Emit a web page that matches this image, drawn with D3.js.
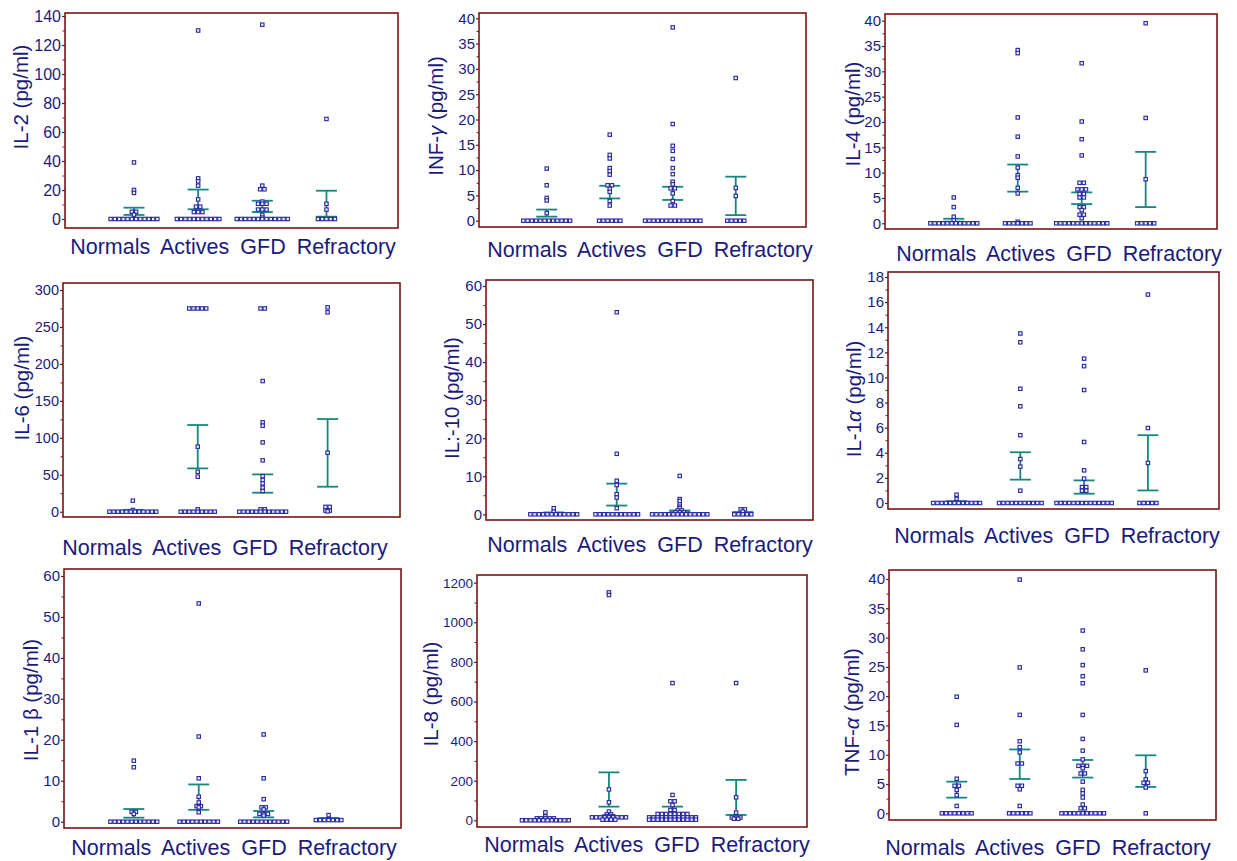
<!DOCTYPE html>
<html>
<head>
<meta charset="utf-8">
<script src="https://cdn.jsdelivr.net/npm/d3@7"></script>
<style>
  body { margin: 0; background: #fff; }
  svg { display: block; font-family: "Liberation Sans", Arial, Helvetica, sans-serif; }
</style>
</head>
<body>
<svg id="chart" width="1237" height="861"></svg>
<script>
const groups = ["Normals", "Actives", "GFD", "Refractory"];

// values per group (Normals, Actives, GFD, Refractory)
const il2 = [
  [39, 20, 18, 5, 5, 3, 0, 0, 0, 0, 0, 0, 0, 0, 0, 0, 0, 0],
  [130, 28, 26, 23, 13.5, 8.5, 8.5, 4.8, 4.8, 4.8, 0, 0, 0, 0, 0, 0, 0, 0, 0, 0, 0],
  [134, 23, 20.5, 20.5, 12, 10.5, 10.5, 10.5, 6.5, 6.5, 6.5, 2.8, 1, 0, 0, 0, 0, 0, 0, 0, 0, 0, 0, 0, 0, 0],
  [69, 10.5, 6.5, 0, 0, 0, 0, 0]
];
const infG = [
  [10.3, 7, 4.5, 4, 1.5, 0, 0, 0, 0, 0, 0, 0, 0, 0, 0, 0, 0],
  [17, 13, 12.3, 10.4, 9.8, 9.1, 7, 7, 6.3, 5.7, 3.9, 3, 0, 0, 0, 0, 0, 0],
  [38.2, 19.1, 14.8, 13.8, 12.2, 10.4, 9.2, 7.7, 7.2, 6.4, 6.4, 5.4, 3.9, 3, 3, 0, 0, 0, 0, 0, 0, 0, 0, 0, 0, 0, 0, 0, 0],
  [28.2, 6.5, 4.9, 0, 0, 0, 0, 0]
];
const il4 = [
  [5.1, 3.2, 1.3, 0.6, 0, 0, 0, 0, 0, 0, 0, 0, 0, 0, 0, 0],
  [34.2, 33.6, 20.9, 17.1, 13.2, 11, 9.5, 9, 7, 5.9, 0.3, 0, 0, 0, 0, 0, 0, 0],
  [31.6, 20.1, 16.6, 13.4, 8, 8, 6.7, 6.7, 6.7, 5.8, 5.8, 5.1, 5.1, 3.2, 3.2, 2.6, 1.7, 1.7, 1.0, 0, 0, 0, 0, 0, 0, 0, 0, 0, 0, 0, 0, 0],
  [39.5, 20.8, 8.7, 0, 0, 0, 0, 0]
];
const il6 = [
  [14.9, 2.3, 0, 0, 0, 0, 0, 0, 0, 0, 0, 0, 0, 0],
  [275, 275, 275, 275, 275, 88, 54, 47.4, 3.2, 0, 0, 0, 0, 0, 0, 0, 0, 0],
  [275, 275, 176.8, 120.9, 116.4, 93.8, 69.5, 48, 43, 38.3, 32.5, 28, 3.2, 3.2, 0, 0, 0, 0, 0, 0, 0, 0, 0, 0, 0, 0],
  [276.5, 269.8, 79.8, 6.5, 6.5, 1.5, 1.5, 0.5]
];
const il10 = [
  [1.6, 0.7, 0, 0, 0, 0, 0, 0, 0, 0, 0, 0, 0, 0],
  [53.1, 15.9, 8.8, 7.7, 5.3, 4.4, 1.6, 0, 0, 0, 0, 0, 0, 0, 0, 0, 0, 0],
  [10.1, 4.0, 3.5, 2.6, 2.0, 1.6, 1.0, 1.0, 0.5, 0.5, 0.5, 0, 0, 0, 0, 0, 0, 0, 0, 0, 0, 0, 0, 0, 0],
  [1.3, 1.3, 0.7, 0, 0, 0, 0, 0]
];
const il1a = [
  [0.66, 0.32, 0.08, 0, 0, 0, 0, 0, 0, 0, 0, 0, 0, 0, 0],
  [13.5, 12.8, 9.1, 7.7, 5.4, 3.5, 2.9, 0.98, 0, 0, 0, 0, 0, 0, 0, 0, 0, 0, 0],
  [11.5, 10.9, 9.0, 4.86, 2.6, 1.94, 1.27, 1.27, 0.98, 0.98, 0, 0, 0, 0, 0, 0, 0, 0, 0, 0, 0, 0, 0, 0],
  [16.6, 5.97, 3.19, 0, 0, 0, 0, 0]
];
const il1b = [
  [14.9, 13.3, 2.4, 2.4, 1.9, 0, 0, 0, 0, 0, 0, 0, 0, 0, 0, 0, 0],
  [53.3, 20.8, 10.6, 6.1, 4.7, 3.8, 3.8, 3.5, 2.3, 0, 0, 0, 0, 0, 0, 0, 0, 0, 0],
  [21.3, 10.6, 5.5, 3.5, 3.5, 3.0, 1.9, 1.9, 1.9, 1.5, 0, 0, 0, 0, 0, 0, 0, 0, 0, 0, 0, 0],
  [1.6, 0.6, 0.4, 0.4, 0.4, 0.4, 0.4, 0.4, 0.4]
];
const il8 = [
  [40, 20, 10, 10, 10, 10, 10, 0, 0, 0, 0, 0, 0, 0, 0, 0, 0, 0, 0],
  [1151, 1138, 156, 91, 44, 30, 30, 20, 20, 20, 15, 15, 15, 15, 15, 15, 15, 15, 15, 3, 3, 3, 3],
  [693, 128, 96, 96, 77, 52, 52, 32, 32, 32, 32, 32, 32, 32, 32, 15, 15, 15, 15, 15, 15, 15, 15, 15, 15, 15, 15, 3, 3, 3, 3, 3, 3, 3, 3, 3, 3, 3, 3],
  [693, 116, 39, 14, 14, 14, 8, 8]
];
const tnfA = [
  [19.9, 15.1, 5.9, 4.7, 4.7, 4.0, 3.1, 1.25, 0, 0, 0, 0, 0, 0, 0, 0],
  [39.9, 24.9, 16.8, 12.3, 11.3, 10.4, 8.5, 8.5, 4.7, 4.7, 4.1, 1.25, 0, 0, 0, 0, 0, 0],
  [31.2, 28.0, 25.3, 23.4, 22.2, 16.8, 12.7, 10.7, 9.2, 8.1, 8.1, 8.1, 7.7, 6.8, 6.8, 5.4, 4.0, 3.4, 2.7, 1.5, 0.85, 0.85, 0, 0, 0, 0, 0, 0, 0, 0, 0, 0, 0],
  [24.4, 7.2, 5.8, 5.2, 5.2, 4.4, 0]
];

// error bars [low cap, high cap] per group
const il2Bars = [[2.8, 7.8], [6.7, 20.3], [4.8, 12.6], [1.6, 19.5]];
const infGBars = [[0.8, 2.2], [4.4, 6.9], [4.1, 6.7], [1.1, 8.7]];
const il4Bars = [[0.33, 0.9], [6.25, 11.6], [3.8, 6.1], [3.2, 14.1]];
const il6Bars = [[0.8, 2.5], [58.6, 117.3], [25.7, 50.5], [33.8, 125.4]];
const il10Bars = [[0.2, 0.5], [2.3, 8.06], [0.6, 1.0], [0.4, 0.6]];
const il1aBars = [[0.05, 0.15], [1.86, 4.04], [0.74, 1.8], [1.0, 5.4]];
const il1bBars = [[0.98, 3.1], [2.9, 9.1], [1.06, 2.6], [0.5, 0.9]];
const il8Bars = [[7, 13], [69, 242], [32, 69], [27, 204]];
const tnfABars = [[2.67, 5.4], [5.86, 10.9], [6.1, 9.1], [4.5, 9.9]];

// y-axis tick labels
const il2Ticks = [0, 20, 40, 60, 80, 100, 120, 140];
const infGTicks = [0, 5, 10, 15, 20, 25, 30, 35, 40];
const il4Ticks = [0, 5, 10, 15, 20, 25, 30, 35, 40];
const il6Ticks = [0, 50, 100, 150, 200, 250, 300];
const il10Ticks = [0, 10, 20, 30, 40, 50, 60];
const il1aTicks = [0, 2, 4, 6, 8, 10, 12, 14, 16, 18];
const il1bTicks = [0, 10, 20, 30, 40, 50, 60];
const il8Ticks = [0, 200, 400, 600, 800, 1000, 1200];
const tnfATicks = [0, 5, 10, 15, 20, 25, 30, 35, 40];

// axis titles: [text, italic?]
const titles = [
  [["IL-2 (pg/ml)", false]],
  [["INF-", false], ["γ", true], [" (pg/ml)", false]],
  [["IL-4 (pg/ml)", false]],
  [["IL-6 (pg/ml)", false]],
  [["IL:-10 (pg/ml)", false]],
  [["IL-1", false], ["α", true], [" (pg/ml)", false]],
  [["IL-1 β (pg/ml)", false]],
  [["IL-8 (pg/ml)", false]],
  [["TNF-", false], ["α", true], [" (pg/ml)", false]]
];

const panelValues = [il2, infG, il4, il6, il10, il1a, il1b, il8, tnfA];
const panelBars = [il2Bars, infGBars, il4Bars, il6Bars, il10Bars, il1aBars, il1bBars, il8Bars, tnfABars];
const panelTicks = [il2Ticks, infGTicks, il4Ticks, il6Ticks, il10Ticks, il1aTicks, il1bTicks, il8Ticks, tnfATicks];

// layout: frame [x, y, w, h], inner pad [bottom, top], title centre, category line centre/baseline
const layout = [
  { frame: [65, 13, 333, 215], pad: [9, 3], title: [20, 97], cats: [233, 254], tick: 16 },
  { frame: [479, 13, 327, 214], pad: [6.3, 5.3], title: [435, 116], cats: [650, 257], tick: 15 },
  { frame: [885, 14, 332, 215], pad: [5.7, 6.7], title: [852, 114], cats: [1059, 261], tick: 15 },
  { frame: [63, 283, 337, 234], pad: [5.3, 7], title: [21, 388], cats: [225, 555], tick: 14.5 },
  { frame: [486, 280, 327, 240], pad: [5.7, 6], title: [451, 398], cats: [650, 552], tick: 15 },
  { frame: [888, 272, 331, 237], pad: [6, 5], title: [853, 399], cats: [1057, 543], tick: 15 },
  { frame: [64, 569, 337, 259], pad: [6.3, 7], title: [30, 700], cats: [234, 855], tick: 15 },
  { frame: [477, 575, 330, 252], pad: [6.7, 7.7], title: [430, 694], cats: [647, 852], tick: 13.5 },
  { frame: [889, 570, 327, 250], pad: [6.7, 9], title: [851, 712], cats: [1048, 855], tick: 15 }
];

const ink = "#1b1b7c";
const frameColor = "#7a1414";
const barColor = "#14887d";
const dotColor = "#2b2ba3";
const dotSize = 3.4;
const dotStep = 4.25;

const svg = d3.select("#chart");

panelValues.forEach((values, i) => {
  const L = layout[i];
  const [fx, fy, fw, fh] = L.frame;
  const ticks = panelTicks[i];
  const yMax = ticks[ticks.length - 1];

  const x = d3.scaleLinear().domain([-0.075, 5.115]).range([0, fw]);
  const y = d3.scaleLinear().domain([0, yMax]).range([fh - L.pad[0], L.pad[1]]);

  const g = svg.append("g").attr("transform", `translate(${fx},${fy})`);

  // minor ticks halfway between labelled ones
  const minor = d3.pairs(ticks).map(([a, b]) => (a + b) / 2);
  g.append("g")
    .call(d3.axisLeft(y).tickValues(minor).tickSize(2.5).tickFormat(""))
    .call(a => a.select(".domain").remove())
    .call(a => a.selectAll("line").attr("stroke", frameColor).attr("stroke-width", 1));

  g.append("g")
    .call(d3.axisLeft(y).tickValues(ticks).tickSize(3).tickPadding(1).tickFormat(d3.format("d")))
    .call(a => a.select(".domain").remove())
    .call(a => a.selectAll("line").attr("stroke", frameColor).attr("stroke-width", 1.2))
    .call(a => a.selectAll("text")
      .attr("fill", ink)
      .style("font-size", L.tick + "px")
      .style("font-family", "'Liberation Sans', Arial, sans-serif"));

  // error bars
  const bars = panelBars[i];
  const capHalf = 10.5;
  const eb = g.append("g").attr("stroke", barColor).attr("stroke-width", 1.8);
  bars.forEach(([lo, hi], j) => {
    const cx = x(j + 1);
    eb.append("line").attr("x1", cx).attr("x2", cx).attr("y1", y(lo)).attr("y2", y(hi));
    eb.append("line").attr("x1", cx - capHalf).attr("x2", cx + capHalf).attr("y1", y(lo)).attr("y2", y(lo));
    eb.append("line").attr("x1", cx - capHalf).attr("x2", cx + capHalf).attr("y1", y(hi)).attr("y2", y(hi));
  });

  // dots: equal values side by side, centred on the group column
  const points = [];
  values.forEach((arr, j) => {
    const counts = d3.rollups(arr, v => v.length, d => d);
    counts.forEach(([val, n]) => {
      for (let k = 0; k < n; k++) {
        points.push({ cx: x(j + 1) + (k - (n - 1) / 2) * dotStep, cy: y(val) });
      }
    });
  });
  g.append("g").selectAll("rect")
    .data(points)
    .join("rect")
    .attr("x", d => d.cx - dotSize / 2)
    .attr("y", d => d.cy - dotSize / 2)
    .attr("width", dotSize)
    .attr("height", dotSize)
    .attr("fill", "#f6f6ff")
    .attr("stroke", dotColor)
    .attr("stroke-width", 1.15);

  // frame
  g.append("rect")
    .attr("width", fw)
    .attr("height", fh)
    .attr("fill", "none")
    .attr("stroke", frameColor)
    .attr("stroke-width", 1.6);

  // axis title
  const t = svg.append("text")
    .attr("transform", `translate(${L.title[0]},${L.title[1]}) rotate(-90)`)
    .attr("text-anchor", "middle")
    .attr("dominant-baseline", "central")
    .attr("fill", ink)
    .style("font-size", "20.5px");
  titles[i].forEach(([s, it]) => {
    t.append("tspan").text(s).style("font-style", it ? "italic" : "normal");
  });

  // category labels under the frame
  svg.append("text")
    .attr("x", L.cats[0])
    .attr("y", L.cats[1])
    .attr("text-anchor", "middle")
    .attr("fill", ink)
    .style("font-size", "21.5px")
    .style("word-spacing", "5px")
    .text(groups.join(" "));
});
</script>
</body>
</html>
